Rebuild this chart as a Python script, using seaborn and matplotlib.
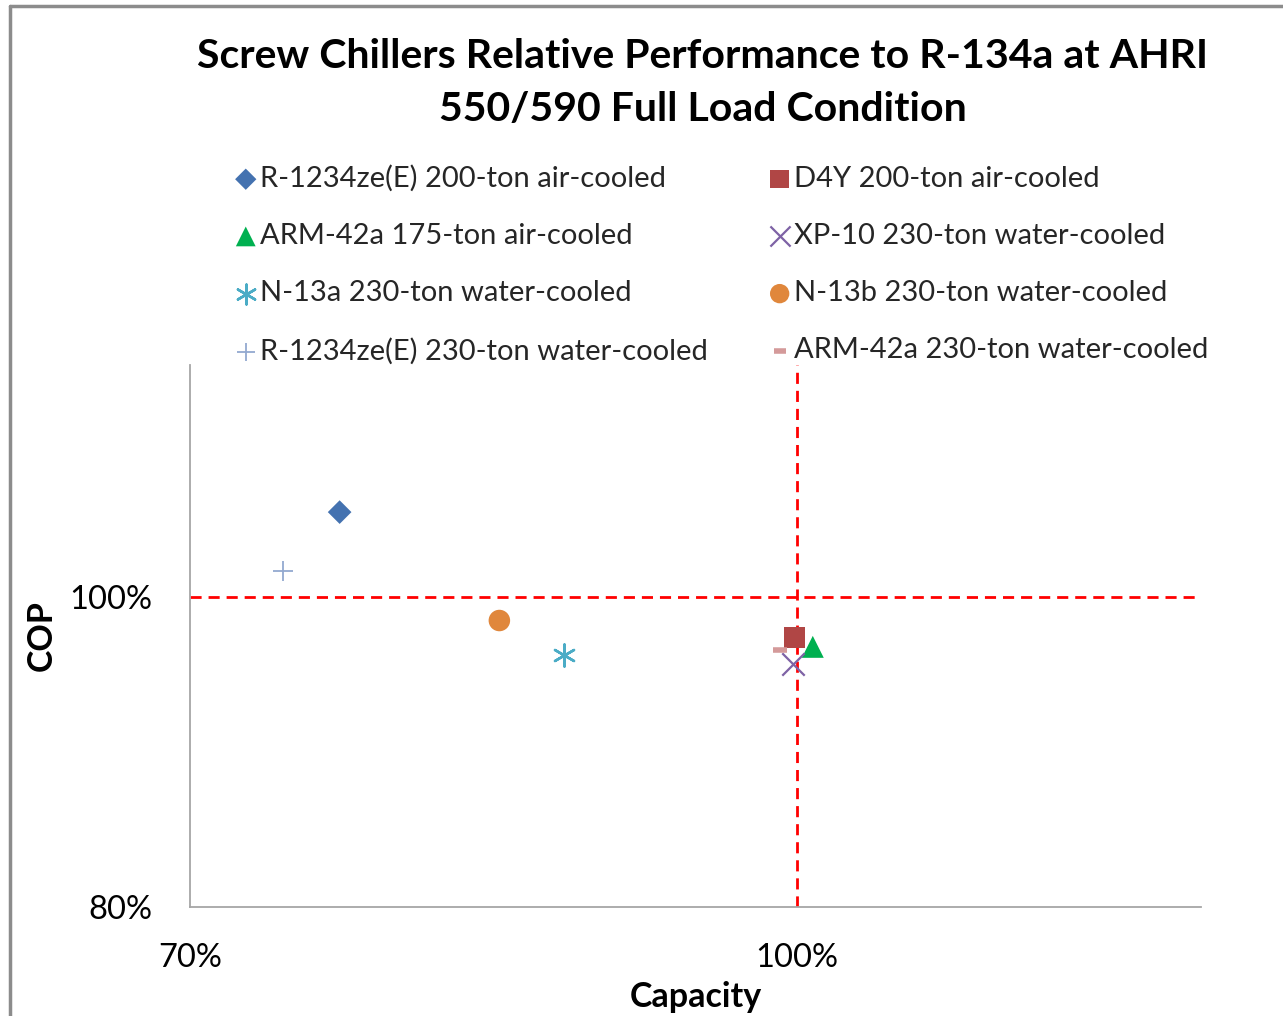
import matplotlib
matplotlib.use("Agg")
import matplotlib.pyplot as plt
import seaborn as sns
import pandas as pd
from matplotlib.lines import Line2D
from matplotlib.ticker import FuncFormatter, FixedLocator

sns.set_theme(style="white")
plt.rcParams['font.family'] = ['Lato', 'DejaVu Sans']

# ---- data ----
series = [
    "R-1234ze(E) 200-ton air-cooled",
    "D4Y 200-ton air-cooled",
    "ARM-42a 175-ton air-cooled",
    "XP-10 230-ton water-cooled",
    "N-13a 230-ton water-cooled",
    "N-13b 230-ton water-cooled",
    "R-1234ze(E) 230-ton water-cooled",
    "ARM-42a 230-ton water-cooled",
]
capacity = [77.4, 99.9, 100.8, 99.8, 88.5, 85.3, 74.6, 99.2]
cop = [105.5, 97.4, 96.8, 95.7, 96.3, 98.5, 101.7, 96.6]
x_ticks = [70, 100]
y_ticks = [80, 100]

# ---- styles ----
colors = ["#4472B0", "#B04645", "#00B050", "#7E62A5", "#4BACC6", "#E0873C", "#93A9D0", "#D49A9A"]
markers = ["D", "s", "^", "x", (6, 2, 0), "o", "+", "_"]
sizes = [145, 220, 250, 260, 250, 240, 210, 90]
lws = [0, 0, 0, 1.6, 1.8, 0, 1.3, 4.0]

df = pd.DataFrame({"series": series, "capacity": capacity, "cop": cop})

W, H = 1283, 1016
fig = plt.figure(figsize=(W / 100, H / 100), dpi=100)
ax = fig.add_axes([190 / W, 109 / H, 1011 / W, 542 / H])

for i, row in df.iterrows():
    sns.scatterplot(data=df.iloc[[i]], x="capacity", y="cop", ax=ax,
                    marker=markers[i], s=sizes[i], color=colors[i],
                    linewidth=lws[i], edgecolor=colors[i] if lws[i] > 0 else "none",
                    label=row["series"], zorder=3)

ax.axvline(100, color="#FF0000", lw=2.0, dashes=(4, 2.5), zorder=2)
ax.axhline(100, color="#FF0000", lw=2.0, dashes=(4, 2.5), zorder=2)

ax.set_xlim(70, 120)
ax.set_ylim(80, 115)
ax.xaxis.set_major_locator(FixedLocator(x_ticks))
ax.yaxis.set_major_locator(FixedLocator(y_ticks))
fmt = FuncFormatter(lambda v, p: f"{v:.0f}%")
ax.xaxis.set_major_formatter(fmt)
ax.yaxis.set_major_formatter(fmt)
ax.tick_params(axis="x", length=0, pad=26, labelsize=23.5, labelcolor="#000000")
ax.tick_params(axis="y", length=0, pad=27, labelsize=23.5, labelcolor="#000000")

for s in ["top", "right"]:
    ax.spines[s].set_visible(False)
for s in ["left", "bottom"]:
    ax.spines[s].set_color("#A6A6A6")
    ax.spines[s].set_linewidth(1.3)
ax.grid(False)

ax.set_xlabel("Capacity", fontsize=24.5, fontweight="bold", color="#000000")
ax.set_ylabel("COP", fontsize=24.5, fontweight="bold", color="#000000")
ax.xaxis.label.set_va("center")
ax.yaxis.label.set_va("center")
ax.xaxis.set_label_coords(0.5, (H - 997 - 109) / 542)
ax.yaxis.set_label_coords((42 - 190) / 1011, 0.5)

fig.text(703 / W, 1 - 83 / H, "Screw Chillers Relative Performance to R-134a at AHRI\n550/590 Full Load Condition",
         ha="center", va="center", fontsize=29.5, fontweight="bold", color="#000000", linespacing=1.55)

handles, labels = ax.get_legend_handles_labels()
ax.get_legend().remove()
order = [0, 2, 4, 6, 1, 3, 5, 7]
fig.legend([handles[i] for i in order], [labels[i] for i in order],
           loc="upper left", bbox_to_anchor=(237 / W, 1 - 165 / H), ncol=2,
           frameon=False, fontsize=21, borderpad=0, borderaxespad=0,
           handlelength=0.6, handletextpad=0.2, columnspacing=2.15,
           labelspacing=1.07, markerscale=0.9)

fig.add_artist(Line2D([10 / W, 10 / W], [0, 1 - 6 / H], transform=fig.transFigure, color="#8C8C8C", lw=2.5))
fig.add_artist(Line2D([10 / W, 1], [1 - 6 / H, 1 - 6 / H], transform=fig.transFigure, color="#8C8C8C", lw=2.5))

fig.savefig("out.png", dpi=100, facecolor="white")
